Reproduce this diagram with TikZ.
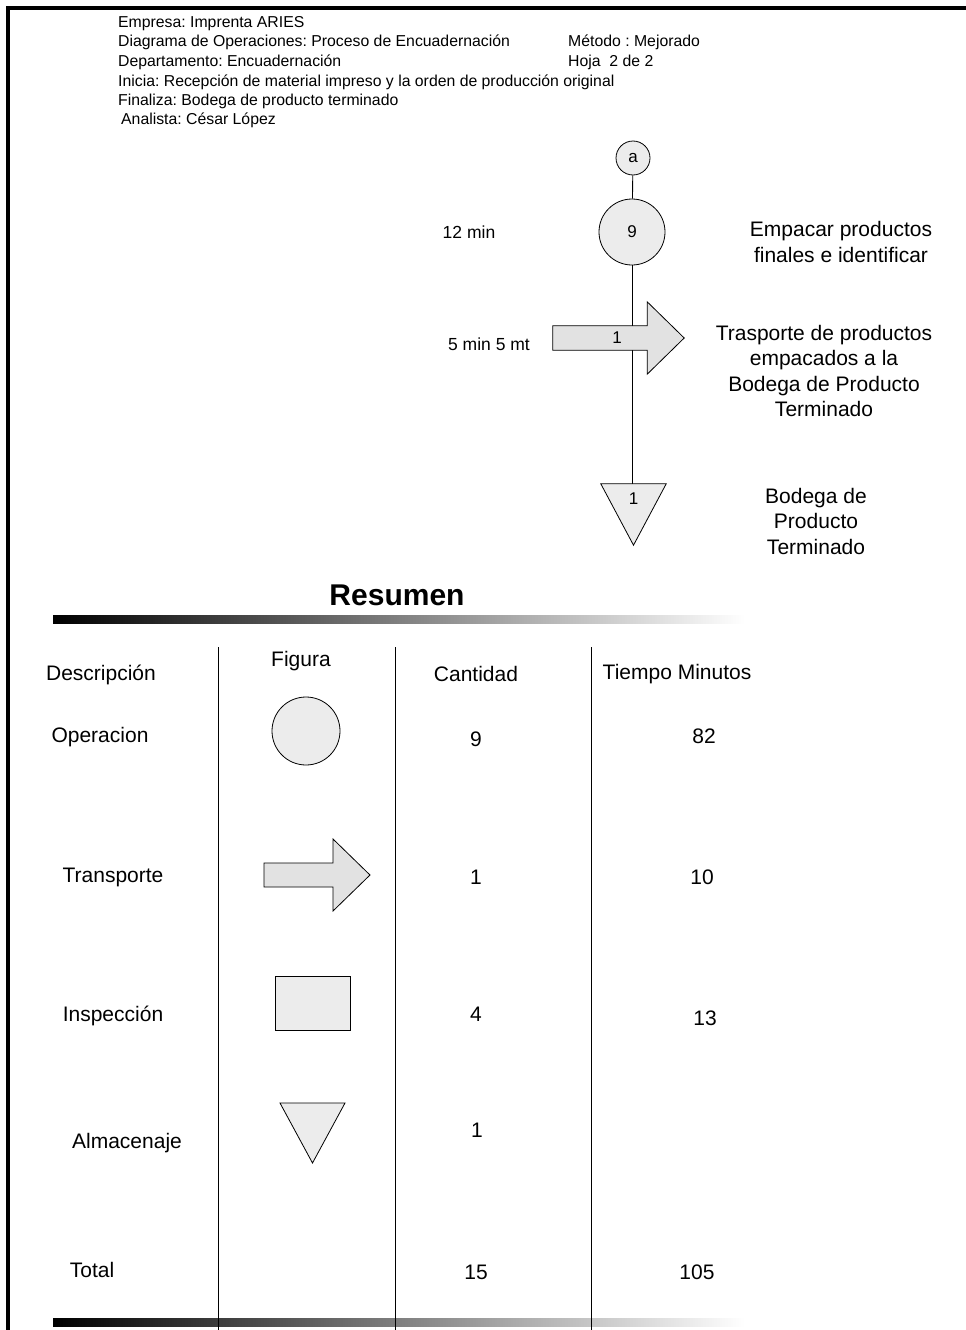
\documentclass[tikz,border=0pt]{standalone}
\usepackage{fontspec}
\setmainfont{Liberation Sans}
\usetikzlibrary{calc}
\definecolor{shapegray}{RGB}{236,236,236}
\definecolor{arrowgray}{RGB}{226,226,226}
\frenchspacing
\begin{document}
\begin{tikzpicture}[x=1pt,y=-1pt,
  hdr/.style={anchor=base west, inner sep=0, font=\fontsize{15.8}{18}\selectfont},
  big/.style={font=\fontsize{21}{25.5}\selectfont, align=center, inner sep=0},
  mid/.style={font=\fontsize{17.5}{20}\selectfont, inner sep=0},
  small/.style={font=\fontsize{17}{19}\selectfont, inner sep=0},
  outline/.style={draw=black, line width=0.8pt},
  flow/.style={draw=black, line width=0.9pt},
  gbar/.style={left color=black, right color=white}]
\useasboundingbox (0,0) rectangle (966,1330);
\fill[white] (0,0) rectangle (966,1330);

% page frame (top and left edges)
\draw[line width=4pt] (966,8) -- (8,8) -- (8,1330);

% header block
\node[hdr] (h1) at (118,27.5) {Empresa: Imprenta ARIES};
\node[hdr] (h2) at (118,47) {Diagrama de Operaciones: Proceso de Encuadernación};
\node[hdr] (h3) at (118,66.5) {Departamento: Encuadernación};
\node[hdr] (h4) at (118,86) {Inicia: Recepción de material impreso y la orden de producción original};
\node[hdr] (h5) at (118,105) {Finaliza: Bodega de producto terminado};
\node[hdr] (h6) at (121,124) {Analista: César López};
\node[hdr] (h7) at (568,47) {Método : Mejorado};
\node[hdr] (h8) at (568,66.5) {Hoja\ \ 2 de 2};

% process flow
\node[circle, outline, fill=shapegray, minimum size=34, small] (ca) at (633,158) {a};
\node[circle, outline, fill=shapegray, minimum size=66, small] (op) at (632,232) {9};
\node[minimum width=94, minimum height=24, inner sep=0] (tr) at (600,338) {};
\node[minimum width=65, minimum height=61, inner sep=0] (st) at (633.5,514.5) {};

\draw[flow] (ca) -- (op);
\draw[flow] (op.south) -- (op.south |- tr.north);
\draw[flow] (op.south |- tr.south) -- (op.south |- st.north);

\draw[outline, fill=arrowgray] (tr.north west) -- (tr.north east)
  -- ($(tr.north east)+(0,-24)$) -- ($(tr.east)+(37,0)$)
  -- ($(tr.south east)+(0,24)$) -- (tr.south east) -- (tr.south west) -- cycle;
\node[small] (trn) at ($(tr.center)+(17,0)$) {1};

\draw[outline, fill=shapegray] (st.north west) -- (st.north east) -- (st.south) -- cycle;
\node[small] (stn) at ($(st.north)+(0,15)$) {1};

% flow labels
\node[mid] (t1) at (469,232) {12 min};
\node[mid] (t2) at (489,344) {5 min 5 mt};
\node[big] (d1) at (841,242) {Empacar productos\\finales e identificar};
\node[big] (d2) at (824,371) {Trasporte de productos\\empacados a la\\Bodega de Producto\\Terminado};
\node[big] (d3) at (816,521) {Bodega de\\Producto\\Terminado};

% summary
\node[font=\bfseries\fontsize{30}{36}\selectfont, inner sep=0] (res) at (397,595) {Resumen};
\shade[gbar] (53,615) rectangle (745,623);
\shade[gbar] (53,1318) rectangle (745,1326);

\draw[line width=0.8pt] (218,647) -- (218,1330);
\draw[line width=0.8pt] (395,647) -- (395,1330);
\draw[line width=0.8pt] (591,647) -- (591,1330);

\node[big] at (101,675) {Descripción};
\node[big] at (301,661) {Figura};
\node[big] at (476,674) {Cantidad};
\node[big] at (677,674) {Tiempo Minutos};

\node[big] at (100,737) {Operacion};
\node[big] at (476,739) {9};
\node[big] at (704,736) {82};

\node[big] at (113,877) {Transporte};
\node[big] at (476,877) {1};
\node[big] at (702,877) {10};

\node[big] at (113,1016) {Inspección};
\node[big] at (476,1014) {4};
\node[big] at (705,1018) {13};

\node[big] at (127,1143) {Almacenaje};
\node[big] at (477,1130) {1};

\node[big] at (92,1270) {Total};
\node[big] at (476,1272) {15};
\node[big] at (697,1272) {105};

% legend symbols
\draw[outline, fill=shapegray] (306,731) circle[radius=34];
\draw[outline, fill=arrowgray] (264,863) -- (333,863) -- (333,839) -- (370,875)
  -- (333,911) -- (333,887) -- (264,887) -- cycle;
\draw[outline, fill=shapegray] (275,976) rectangle (350,1030);
\draw[outline, fill=shapegray] (280,1103) -- (345,1103) -- (312.5,1163) -- cycle;
\end{tikzpicture}
\end{document}
